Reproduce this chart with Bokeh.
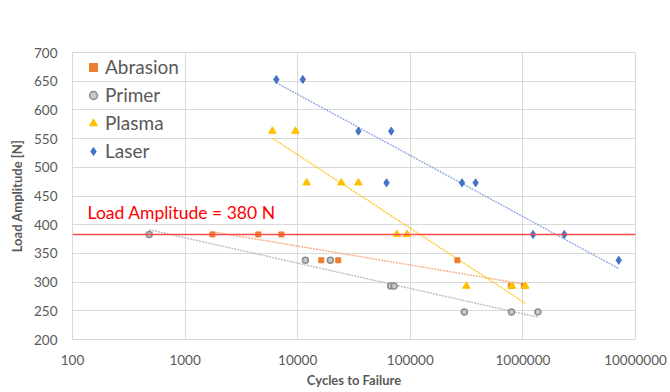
import numpy as np
from bokeh.plotting import figure
from bokeh.models import Range1d, FixedTicker, NumeralTickFormatter, Span, Label, Legend, LegendItem
from bokeh.embed import file_html
from bokeh.resources import INLINE

# ---- data ----
abrasion_x = [1750, 4470, 7160, 16200, 22900, 262000, 780000, 1020000]
abrasion_y = [383, 383, 383, 338, 338, 338, 293, 293]

primer_x = [480, 11700, 19500, 67000, 72000, 302000, 790000, 1360000]
primer_y = [383, 338, 338, 293, 293, 248, 248, 248]

plasma_x = [5960, 9550, 12000, 24400, 34600, 76000, 93600, 315000, 801000, 1050000]
plasma_y = [563, 563, 473, 473, 473, 383, 383, 293, 293, 293]

laser_x = [6460, 11100, 34600, 67700, 61500, 288000, 380000, 1230000, 2330000, 7100000]
laser_y = [653, 653, 563, 563, 473, 473, 473, 383, 383, 338]

threshold = 383
threshold_label = "Load Amplitude = 380 N"

x_ticks = [100, 1000, 10000, 100000, 1000000, 10000000]
y_ticks = [200, 250, 300, 350, 400, 450, 500, 550, 600, 650, 700]

FONT = "Lato"
GREY = "#595959"

p = figure(width=670, height=392, x_axis_type="log",
           x_range=Range1d(100, 1e7), y_range=Range1d(200, 700),
           output_backend="svg", toolbar_location=None,
           min_border_left=72, min_border_right=35, min_border_top=52, min_border_bottom=53)

p.outline_line_color = "#D9D9D9"
p.xgrid.grid_line_color = "#D9D9D9"
p.ygrid.grid_line_color = "#D9D9D9"
p.xaxis.ticker = FixedTicker(ticks=x_ticks)
p.yaxis.ticker = FixedTicker(ticks=y_ticks)
p.xaxis.formatter = NumeralTickFormatter(format="0")
for ax in (p.xaxis, p.yaxis):
    ax.axis_line_color = None
    ax.major_tick_line_color = None
    ax.minor_tick_line_color = None
    ax.major_tick_out = 0
    ax.minor_tick_out = 0
    ax.major_label_text_font = FONT
    ax.major_label_text_font_size = "13.5px"
    ax.major_label_text_color = GREY
    ax.axis_label_text_font = FONT
    ax.axis_label_text_font_size = "13px"
    ax.axis_label_text_font_style = "bold"
    ax.axis_label_text_color = GREY
p.xaxis.axis_label = "Cycles to Failure"
p.yaxis.axis_label = "Load Amplitude [N]"
p.xaxis.major_label_standoff = 15
p.xaxis.axis_label_standoff = 4
p.yaxis.major_label_standoff = 15
p.yaxis.axis_label_standoff = 6

# threshold line
p.add_layout(Span(location=threshold, dimension="width", line_color="#FF4B4B", line_width=1.6))
p.add_layout(Label(x=136, y=421, text=threshold_label, text_font=FONT, text_font_size="17.5px",
                   text_color="#FF0000", text_baseline="middle"))

def trend(xs, ys, color):
    xs = np.asarray(xs, float); ys = np.asarray(ys, float)
    a, b = np.polyfit(np.log(xs), ys, 1)
    xx = np.logspace(np.log10(xs.min()), np.log10(xs.max()), 50)
    p.line(xx, a * np.log(xx) + b, line_color=color, line_width=1.4, line_dash="2 1", line_alpha=0.85)

trend(abrasion_x, abrasion_y, "#F4A06E")
trend(primer_x, primer_y, "#B0B0B0")
trend(plasma_x, plasma_y, "#FFC000")
trend(laser_x, laser_y, "#7A9BD8")

r_ab = p.scatter(abrasion_x, abrasion_y, marker="square", size=5, fill_color="#ED7D31", line_color="#ED7D31")
r_pr = p.scatter(primer_x, primer_y, marker="circle", size=6, fill_color="#C8C8C8", line_color="#8C8C8C", line_width=1.5)
r_pl = p.scatter(plasma_x, plasma_y, marker="triangle", size=7.5, fill_color="#FFC000", line_color="#FFC000")
r_la = p.scatter(laser_x, laser_y, marker="diamond", size=8, fill_color="#4472C4", line_color="#4472C4")

legend = Legend(items=[LegendItem(label="Abrasion", renderers=[r_ab]),
                       LegendItem(label="Primer", renderers=[r_pr]),
                       LegendItem(label="Plasma", renderers=[r_pl]),
                       LegendItem(label="Laser", renderers=[r_la])],
                location=(9, 177), margin=0, padding=0, spacing=5,
                glyph_width=24, glyph_height=20, label_height=20, label_standoff=0,
                label_text_font=FONT, label_text_font_size="19px", label_text_color=GREY,
                background_fill_alpha=0, border_line_color=None)
p.add_layout(legend)

open("out.html", "w").write(file_html(p, INLINE))
